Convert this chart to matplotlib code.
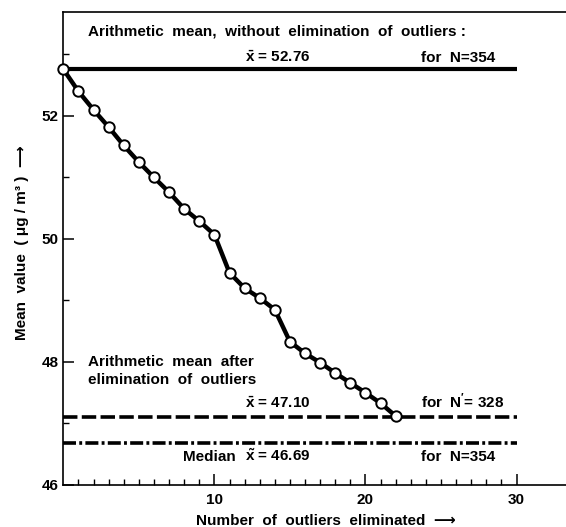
"""Mean value vs. number of outliers eliminated"""
import matplotlib
matplotlib.use("Agg")
import matplotlib.pyplot as plt
from matplotlib.ticker import MultipleLocator, FixedLocator

plt.rcParams['font.family'] = ['Liberation Sans', 'DejaVu Sans']
plt.rcParams['font.weight'] = 'bold'
plt.rcParams['mathtext.fontset'] = 'custom'
plt.rcParams['mathtext.rm'] = 'Liberation Sans:bold'
plt.rcParams['mathtext.bf'] = 'Liberation Sans:bold'

# number of outliers eliminated and the resulting mean (ug/m3)
n_eliminated = list(range(0, 23))
mean_values = [52.76, 52.40, 52.10, 51.82, 51.52, 51.25, 51.00, 50.76, 50.49,
               50.29, 50.07, 49.45, 49.20, 49.04, 48.85, 48.33, 48.14, 47.99,
               47.82, 47.66, 47.50, 47.33, 47.12]

mean_all = 52.76      # without elimination, N = 354
mean_clean = 47.10    # after elimination, N' = 328
median_all = 46.69    # median, N = 354
ref_x = [0, 30]

x_ticks = [10, 20, 30]
y_ticks = [46, 48, 50, 52]

fig = plt.figure(figsize=(5.66, 5.27), dpi=100)
ax = fig.add_axes([63.3 / 566, 42 / 527, (566 - 63.3) / 566, (485 - 12) / 527])

# reference lines
ax.plot(ref_x, [mean_all] * 2, color='black', lw=3.0, solid_capstyle='butt')
ax.plot(ref_x, [mean_clean] * 2, color='black', lw=2.6,
        linestyle=(0, (4, 1.2)), dash_capstyle='butt')
ax.plot(ref_x, [median_all] * 2, color='black', lw=2.6,
        linestyle=(0, (3.6, 0.9, 0.8, 0.9)), dash_capstyle='butt')

# curve of the mean
ax.plot(n_eliminated, mean_values, color='black', lw=3.2, marker='o',
        markersize=7.5, markerfacecolor='white', markeredgecolor='black',
        markeredgewidth=1.4, zorder=5, clip_on=False)

ax.set_xlim(0, 33.27)
ax.set_ylim(46, 53.69)

ax.spines['right'].set_visible(False)
for side in ['left', 'bottom', 'top']:
    ax.spines[side].set_linewidth(1.2)

ax.xaxis.set_major_locator(FixedLocator(x_ticks))
ax.xaxis.set_minor_locator(FixedLocator([i for i in range(1, 31) if i % 10]))
ax.yaxis.set_major_locator(FixedLocator(y_ticks))
ax.yaxis.set_minor_locator(MultipleLocator(1))
ax.tick_params(axis='both', which='major', direction='in', length=8, width=1.1,
               labelsize=11, top=False, right=False)
ax.tick_params(axis='both', which='minor', direction='in', length=4, width=1.0,
               top=False, right=False)
ax.tick_params(axis='x', which='major', pad=6)

fs = 11
ax.text(1.63, 53.37, 'Arithmetic  mean,  without  elimination  of  outliers :',
        fontsize=fs, va='center')
ax.text(12.0, 52.88, r'$\bar{\mathbf{x}}$ = 52.76', fontsize=fs, va='baseline')
ax.text(23.7, 52.88, 'for  N=354', fontsize=fs, va='baseline')

ax.text(1.63, 48.0, 'Arithmetic  mean  after', fontsize=fs, va='center')
ax.text(1.63, 47.71, 'elimination  of  outliers', fontsize=fs, va='center')
ax.text(12.0, 47.25, r'$\bar{\mathbf{x}}$ = 47.10', fontsize=fs, va='baseline')
ax.text(23.7, 47.25, r"for  N$'$= 328", fontsize=fs, va='baseline')

ax.text(11.4, 46.39, 'Median', fontsize=fs, va='baseline', ha='right')
ax.text(12.0, 46.39, r'$\tilde{\mathbf{x}}$ = 46.69', fontsize=fs, va='baseline')
ax.text(23.7, 46.39, 'for  N=354', fontsize=fs, va='baseline')

fig.text(22 / 566, 1 - 243 / 527, 'Mean  value  ( \u03bcg / m\u00b3 )  \u27f6',
         rotation=90, fontsize=fs, ha='center', va='center')
fig.text(326 / 566, 1 - 521 / 527, 'Number  of  outliers  eliminated  \u27f6',
         fontsize=fs, ha='center', va='center')

fig.savefig('out.png', dpi=100)
